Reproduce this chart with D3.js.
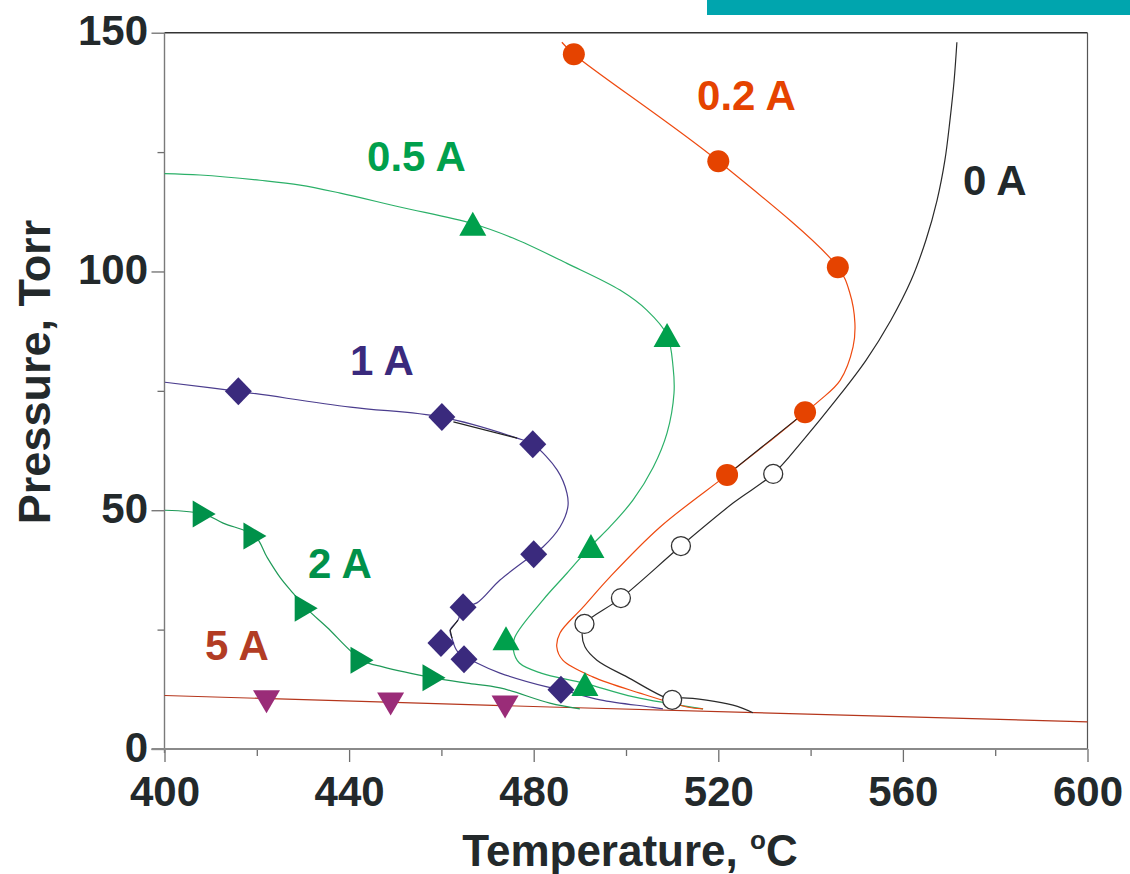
<!DOCTYPE html>
<html>
<head>
<meta charset="utf-8">
<script src="https://cdn.jsdelivr.net/npm/d3@7"></script>
<style>
  html, body { margin: 0; padding: 0; background: #ffffff; }
  svg { display: block; }
  text { font-family: "Liberation Sans", Arial, Helvetica, sans-serif; font-weight: bold; }
</style>
</head>
<body>
<svg id="chart" width="1130" height="874"></svg>
<script>
// Axis ticks
const xMajorTicks = [400, 440, 480, 520, 560, 600];
const xMinorTicks = [420, 460, 500, 540, 580];
const yMajorTicks = [0, 50, 100, 150];
const yMinorTicks = [25, 75, 125];

// Discharge current of each curve
const currents = ["0 A", "0.2 A", "0.5 A", "1 A", "2 A", "5 A"];

// Traced curves: [temperature °C, pressure Torr]
const curve0A = [[527.5,7.6],[523.2,9.2],[512.1,10.7],[510,10.3],[500.2,15.1],[493.7,18.6],[491.1,21.4],[490.5,23.9],[491,26.2],[498.9,31.6],[511.9,42.5],[523.2,51.5],[531.9,57.6],[538.4,64.7],[545.5,73.1],[552,81.4],[557.4,89.8],[561.8,98.2],[565,106.6],[567.4,114.9],[569.1,123.3],[570.2,131.7],[571.1,140],[571.7,148]];
const curve02A = [[486.1,148],[488.7,145.5],[520,123.1],[545.9,100.9],[548.5,95.5],[549.6,89.2],[549.2,84.2],[546.4,77.2],[542.1,73.1],[538.8,70.5],[530.3,63.8],[521.9,57.4],[507.4,46.5],[496.5,36],[490.7,29.7],[485.7,24.3],[485,21.4],[486.3,18.6],[492.8,15.1],[503,11.7],[513.2,8.8],[516.7,8.4]];
const curve05A = [[400,120.5],[407.7,120.2],[420.7,119.1],[429.4,118.1],[438.1,116.4],[451,113.5],[466.8,110],[475.5,107],[487.2,101.7],[498.7,96.1],[504.5,91.9],[508.9,86.7],[510.2,80],[510.4,74.5],[508.9,66.2],[505.9,59],[501.5,52.1],[496.5,46.5],[492.4,42.5],[487.2,36.8],[482,31.2],[475.9,23.4],[475.6,20.7],[476.9,18],[481.6,15.9],[490.9,13.8],[501.7,10.9],[516.7,8.4]];
const curve1A = [[400.1,76.8],[416,74.9],[440.3,71.6],[460.1,69.5],[476.4,65.1],[479.8,63.8],[485.1,58.4],[487.2,53.6],[487.4,50.7],[485.7,46.5],[482,42.3],[480,40.8],[472.7,35.4],[467.7,30.6],[464.7,29.7],[463.6,27],[461.9,24.9],[462.3,23.2],[463.5,20.4],[467.7,18],[472.7,15.9],[482.9,13],[485.9,12.4],[494.4,10.3],[505.2,8.8],[508,8.4]];
const curve2A = [[400.1,50],[408.6,49.2],[412.7,47.3],[419.6,44.6],[422.2,40.2],[425,36],[427.8,32.7],[430.7,29.5],[435.2,25.5],[442.8,18.6],[447.3,17.2],[458.4,14.9],[465.5,13.8],[472.7,12.8],[483.5,9.6],[490,8.4]];
const curve5A = [[400,11.2],[483.5,8.8],[600,5.7]];

// Short dark fit segments drawn over some curves
const darkSegments = [
  [[462.6,68.5],[476.4,65.1]],
  [[521.9,57.4],[538.8,70.5]],
  [[463.6,27],[461.9,24.9],[462.3,23.2]]
];

// Measured points: [temperature °C, pressure Torr]
const points0A = [[510,10.3],[491,26.2],[498.9,31.6],[511.9,42.5],[531.9,57.6]];
const points02A = [[488.7,145.5],[520,123.1],[545.9,100.9],[538.8,70.5],[521.9,57.4]];
const points05A = [[466.8,110],[508.9,86.7],[492.4,42.5],[474,23.2],[491.1,13.6]];
const points1A = [[416,74.9],[460.1,69.5],[479.8,63.8],[480,40.8],[464.7,29.7],[459.9,22.2],[464.9,18.8],[485.9,12.4]];
const points2A = [[408.6,49.2],[419.6,44.6],[430.7,29.5],[442.8,18.6],[458.4,14.9]];
const points5A = [[422.1,9.9],[449,9.4],[473.8,8.8]];

// Label anchor positions in data units (left edge, baseline)
const labelPos = {
  "0 A":   [573.0, 116.0],
  "0.2 A": [515.4, 133.8],
  "0.5 A": [443.9, 121.0],
  "1 A":   [440.2, 78.3],
  "2 A":   [431.1, 35.8],
  "5 A":   [408.8, 18.6]
};

const svg = d3.select("#chart");
const W = 1130, H = 874;

const x = d3.scaleLinear().domain([400, 600]).range([164.5, 1087.5]);
const y = d3.scaleLinear().domain([0, 150]).range([749, 32.7]);

// header band
svg.append("rect").attr("x", 707).attr("y", 0).attr("width", W - 707).attr("height", 15)
  .attr("fill", "#00a5ae");

const line = d3.line().x(d => x(d[0])).y(d => y(d[1])).curve(d3.curveCatmullRom.alpha(0.5));
const straight = d3.line().x(d => x(d[0])).y(d => y(d[1]));

// frame
svg.append("line").attr("x1", x(400)).attr("x2", x(600)).attr("y1", y(150)).attr("y2", y(150))
  .attr("stroke", "#333").attr("stroke-width", 1.4);
svg.append("line").attr("x1", x(600)).attr("x2", x(600)).attr("y1", y(150)).attr("y2", y(0))
  .attr("stroke", "#555").attr("stroke-width", 1.2);

// axes
const tickFont = "42px";
function styleAxis(g, color, width) {
  g.select(".domain").remove();
  g.selectAll(".tick line").attr("stroke", color).attr("stroke-width", width);
  g.selectAll(".tick text").attr("fill", "#23292b").style("font-size", tickFont)
    .style("font-family", "'Liberation Sans', Arial, sans-serif").style("font-weight", "bold");
}

const gxMinor = svg.append("g").attr("transform", `translate(0,${y(0)})`)
  .call(d3.axisBottom(x).tickValues(xMinorTicks).tickSize(7).tickFormat(""));
styleAxis(gxMinor, "#6e6e6e", 1.3);
const gx = svg.append("g").attr("transform", `translate(0,${y(0)})`)
  .call(d3.axisBottom(x).tickValues(xMajorTicks).tickSize(13).tickPadding(14).tickFormat(d3.format("d")));
styleAxis(gx, "#6e6e6e", 1.3);

const gyMinor = svg.append("g").attr("transform", `translate(${x(400)},0)`)
  .call(d3.axisLeft(y).tickValues(yMinorTicks).tickSize(7).tickFormat(""));
styleAxis(gyMinor, "#6e6e6e", 1.3);
const gy = svg.append("g").attr("transform", `translate(${x(400)},0)`)
  .call(d3.axisLeft(y).tickValues(yMajorTicks).tickSize(13).tickPadding(3.5).tickFormat(d3.format("d")));
styleAxis(gy, "#6e6e6e", 1.3);
gy.selectAll(".tick text").attr("dy", "0.29em");

// axis lines
svg.append("line").attr("x1", x(400)).attr("x2", x(400)).attr("y1", y(150)).attr("y2", y(0) + 4)
  .attr("stroke", "#7a7a7a").attr("stroke-width", 1.4);
svg.append("line").attr("x1", x(400) - 13).attr("x2", x(600)).attr("y1", y(0)).attr("y2", y(0))
  .attr("stroke", "#8a8a8a").attr("stroke-width", 2);

// axis titles
svg.append("text").attr("x", 630).attr("y", 866).attr("text-anchor", "middle")
  .attr("fill", "#23292b").style("font-size", "44px")
  .call(t => {
    t.append("tspan").text("Temperature, ");
    t.append("tspan").text("o").style("font-size", "26px").attr("dy", "-17");
    t.append("tspan").text("C").attr("dy", "17");
  });
svg.append("text").attr("transform", "translate(50,372) rotate(-90)").attr("text-anchor", "middle")
  .attr("fill", "#23292b").style("font-size", "45px").text("Pressure, Torr");

// curves
const series = [
  { name: "5 A",   curve: curve5A,  stroke: "#b5361c" },
  { name: "2 A",   curve: curve2A,  stroke: "#1f9a58" },
  { name: "1 A",   curve: curve1A,  stroke: "#4b3d8e" },
  { name: "0.5 A", curve: curve05A, stroke: "#2bb068" },
  { name: "0.2 A", curve: curve02A, stroke: "#ee4a10" },
  { name: "0 A",   curve: curve0A,  stroke: "#2a2a2a" }
];
svg.append("g").selectAll("path").data(series).join("path")
  .attr("d", d => (d.curve.length < 4 ? straight : line)(d.curve))
  .attr("fill", "none").attr("stroke", d => d.stroke).attr("stroke-width", 1.2);

svg.append("g").selectAll("path").data(darkSegments).join("path")
  .attr("d", d => straight(d)).attr("fill", "none").attr("stroke", "#222").attr("stroke-width", 1.1);

// markers
function diamond(hw, hh) { return `M0,${-hh}L${hw},0L0,${hh}L${-hw},0Z`; }
function triUp(w, h) { return `M0,${-h/2}L${w/2},${h/2}L${-w/2},${h/2}Z`; }
function triDown(w, h) { return `M0,${h/2}L${w/2},${-h/2}L${-w/2},${-h/2}Z`; }
function triRight(w, h) { return `M${w/2},0L${-w/2},${h/2}L${-w/2},${-h/2}Z`; }

const gm = svg.append("g");
gm.selectAll(".p5").data(points5A).join("path")
  .attr("transform", d => `translate(${x(d[0])},${y(d[1])})`).attr("d", triDown(27, 23)).attr("fill", "#9a2c78");
gm.selectAll(".p2").data(points2A).join("path")
  .attr("transform", d => `translate(${x(d[0])},${y(d[1])})`).attr("d", triRight(23, 27)).attr("fill", "#00914a");
gm.selectAll(".p1").data(points1A).join("path")
  .attr("transform", d => `translate(${x(d[0])},${y(d[1])})`).attr("d", diamond(13.5, 14)).attr("fill", "#3a2a7d");
gm.selectAll(".p05").data(points05A).join("path")
  .attr("transform", d => `translate(${x(d[0])},${y(d[1])})`).attr("d", triUp(27, 24)).attr("fill", "#00a04c");
gm.selectAll(".p02").data(points02A).join("circle")
  .attr("cx", d => x(d[0])).attr("cy", d => y(d[1])).attr("r", 11).attr("fill", "#e54300");
gm.selectAll(".p0").data(points0A).join("circle")
  .attr("cx", d => x(d[0])).attr("cy", d => y(d[1])).attr("r", 9.5)
  .attr("fill", "#fff").attr("stroke", "#333").attr("stroke-width", 1.3);

// curve labels
const labelColor = { "0 A": "#22292b", "0.2 A": "#e54300", "0.5 A": "#00a04c", "1 A": "#3a2a7d", "2 A": "#00914a", "5 A": "#b23c24" };
svg.append("g").selectAll("text").data(currents).join("text")
  .attr("x", d => x(labelPos[d][0])).attr("y", d => y(labelPos[d][1]))
  .attr("fill", d => labelColor[d]).style("font-size", "42px").text(d => d);
</script>
</body>
</html>
